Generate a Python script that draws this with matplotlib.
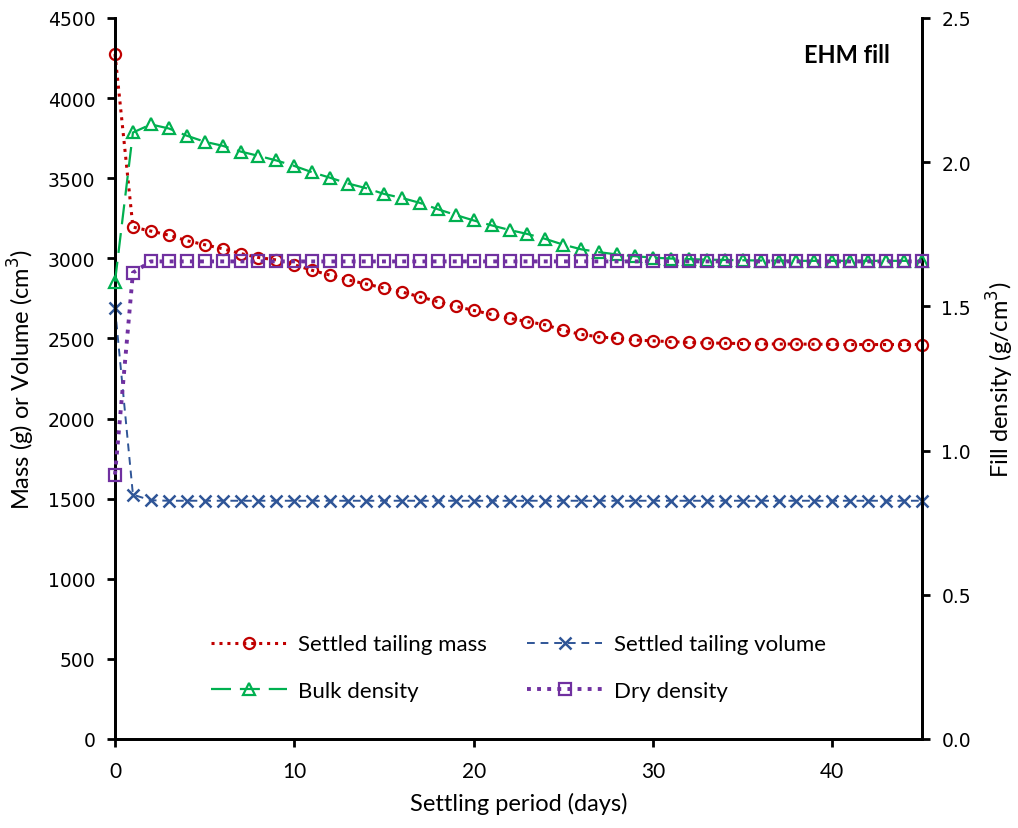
import numpy as np
import matplotlib.pyplot as plt

# settling test data, one reading per day
days = list(range(0, 46))

tailing_mass = [4275, 3195, 3170, 3145, 3110, 3085, 3060, 3030, 3005, 2990,
                2960, 2925, 2895, 2865, 2840, 2815, 2790, 2760, 2730, 2700,
                2675, 2650, 2625, 2605, 2585, 2550, 2525, 2510, 2500, 2490,
                2485, 2480, 2475, 2472, 2470, 2468, 2466, 2465, 2465, 2464,
                2463, 2462, 2462, 2462, 2462, 2462]

tailing_volume = [2690, 1525, 1490] + [1487] * 43

bulk_density = [1.586, 2.103, 2.131, 2.117, 2.092, 2.071, 2.057, 2.037, 2.022, 2.006,
                1.987, 1.965, 1.946, 1.926, 1.910, 1.890, 1.876, 1.859, 1.837, 1.817,
                1.798, 1.781, 1.765, 1.751, 1.734, 1.714, 1.698, 1.688, 1.680, 1.674,
                1.669, 1.666, 1.664, 1.662, 1.661, 1.660, 1.659, 1.659, 1.658, 1.658,
                1.658, 1.658, 1.658, 1.658, 1.658, 1.658]

dry_density = [0.917, 1.617] + [1.656] * 44

c_red = '#C00000'
c_blue = '#2F5597'
c_green = '#00B050'
c_purple = '#7030A0'

label_font = 'Lato'

fig = plt.figure(figsize=(10.18, 8.29), dpi=100)
ax = fig.add_axes([115 / 1018, 1 - 740 / 829, (922 - 115) / 1018, (740 - 19) / 829])
ax2 = ax.twinx()

l1, = ax.plot(days, tailing_mass, color=c_red, linestyle=(0, (1, 1.6)), linewidth=2.2,
              marker='o', markersize=8, markerfacecolor='none', markeredgewidth=1.6,
              label='Settled tailing mass', clip_on=False, zorder=3)
l2, = ax.plot(days, tailing_volume, color=c_blue, linestyle=(0, (4, 3)), linewidth=1.4,
              marker='x', markersize=8, markeredgewidth=1.8,
              label='Settled tailing volume', clip_on=False, zorder=3)
l3, = ax2.plot(days, bulk_density, color=c_green, linestyle=(0, (9, 4)), linewidth=1.6,
               marker='^', markersize=9, markerfacecolor='none', markeredgewidth=1.6,
               label='Bulk density', clip_on=False, zorder=3)
l4, = ax2.plot(days, dry_density, color=c_purple, linestyle=(0, (1, 1.6)), linewidth=2.8,
               marker='s', markersize=8, markerfacecolor='none', markeredgewidth=1.6,
               label='Dry density', clip_on=False, zorder=3)

ax.set_xlim(0, 45)
ax.set_ylim(0, 4500)
ax2.set_ylim(0, 2.5)
ax.set_xticks([0, 10, 20, 30, 40])
ax.set_yticks(np.arange(0, 4501, 500))
ax2.set_yticks(np.arange(0, 2.51, 0.5))
ax2.set_yticklabels([f'{v:.1f}' for v in np.arange(0, 2.51, 0.5)])

for a in (ax, ax2):
    a.spines['top'].set_visible(False)
    for s in a.spines.values():
        s.set_linewidth(2)
    a.tick_params(direction='out', length=6, width=2)
ax.tick_params(axis='y', labelsize=13.5, pad=8)
ax2.tick_params(axis='y', labelsize=13.5, pad=8)
for t in ax.get_xticklabels():
    t.set_fontfamily(label_font)
    t.set_fontsize(15)
ax.tick_params(axis='x', pad=10)

ax.set_xlabel('Settling period (days)', fontfamily=label_font, fontsize=17, labelpad=8)
ax.set_ylabel('Mass (g) or Volume (cm$^3$)', fontfamily=label_font, fontsize=17, labelpad=8)
ax2.set_ylabel('Fill density (g/cm$^3$)', fontfamily=label_font, fontsize=17, labelpad=10)

ax.text(0.96, 0.95, 'EHM fill', transform=ax.transAxes, ha='right', va='center',
        fontfamily=label_font, fontweight='bold', fontsize=17)

# legend fills column by column: mass / bulk on the left, volume / dry on the right
ax.legend([l1, l3, l2, l4],
          ['Settled tailing mass', 'Bulk density', 'Settled tailing volume', 'Dry density'],
          ncol=2, loc='lower center', bbox_to_anchor=(0.5, 0.025), frameon=False,
          prop={'family': label_font, 'size': 16}, handlelength=3.4,
          columnspacing=1.8, labelspacing=1.2, handletextpad=0.5)

fig.savefig('out.png', dpi=100)
